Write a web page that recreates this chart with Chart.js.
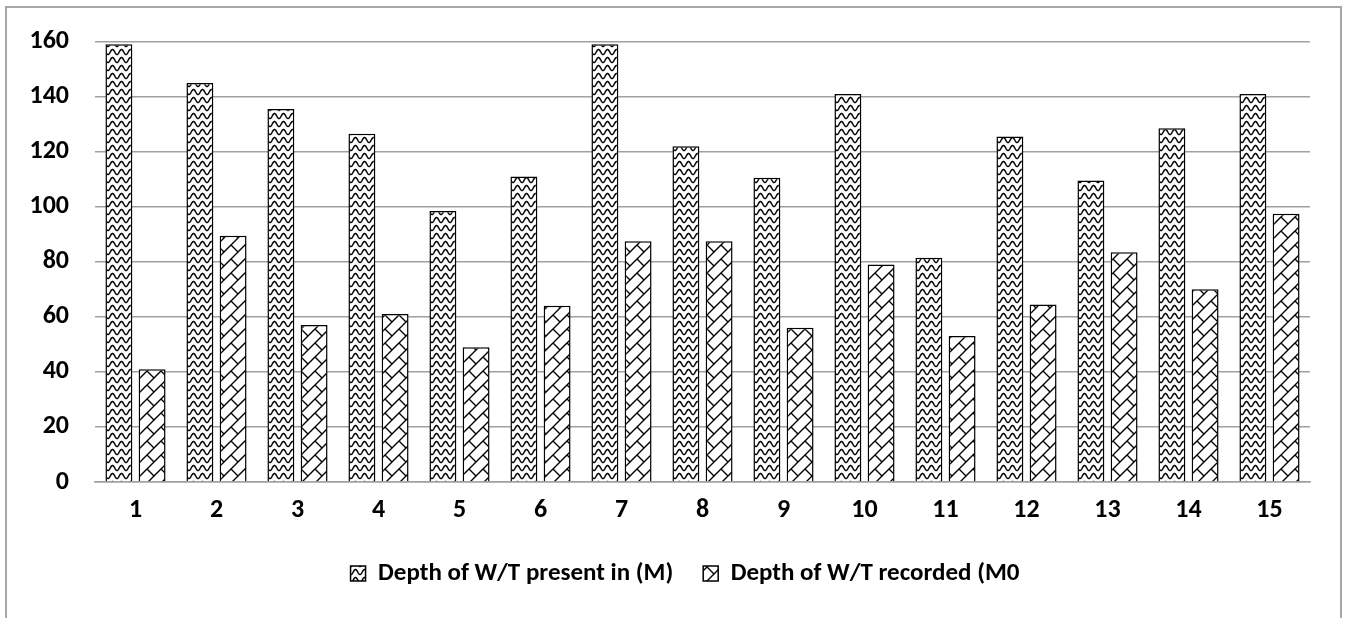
<!DOCTYPE html>
<html>
<head>
<meta charset="utf-8">
<script src="https://cdn.jsdelivr.net/npm/chart.js@4"></script>
<style>
html,body{margin:0;padding:0;background:#fff;}
#wrap{position:absolute;left:0;top:0;width:1346px;height:618px;}
</style>
</head>
<body>
<div id="wrap"><canvas id="c" width="1346" height="618"></canvas></div>
<script>
const categories = ['1','2','3','4','5','6','7','8','9','10','11','12','13','14','15'];
const presentDepth = [159, 145, 135.5, 126.5, 98.5, 111, 159, 122, 110.5, 141, 81.5, 125.5, 109.5, 128.5, 141];
const recordedDepth = [41, 89.5, 57, 61, 49, 64, 87.5, 87.5, 56, 79, 53, 64.5, 83.5, 70, 97.5];
const seriesNames = ['Depth of W/T present in (M)', 'Depth of W/T recorded (M0'];
const yTicks = [0, 20, 40, 60, 80, 100, 120, 140, 160];

const FONT = "Carlito, Lato, 'Liberation Sans', sans-serif";

function wavePattern(){
  const w = 9, h = 8;
  const c = document.createElement('canvas');
  c.width = w; c.height = h;
  const g = c.getContext('2d');
  g.fillStyle = '#fff'; g.fillRect(0,0,w,h);
  g.strokeStyle = '#000'; g.lineWidth = 1.5;
  g.beginPath();
  let first = true;
  for (let x = -1; x <= w + 1; x += 0.25) {
    const y = 4 + 2.5 * Math.cos(x / w * Math.PI * 2);
    if (first) { g.moveTo(x, y); first = false; } else g.lineTo(x, y);
  }
  g.stroke();
  return g.createPattern(c, 'repeat');
}
function brickPattern(){
  const s = 14;
  const c = document.createElement('canvas');
  c.width = s; c.height = s;
  const g = c.getContext('2d');
  g.fillStyle = '#fff'; g.fillRect(0,0,s,s);
  g.strokeStyle = '#000'; g.lineWidth = 1.4;
  g.beginPath();
  g.moveTo(-2, s+2); g.lineTo(s+2, -2);
  g.moveTo(-2, 2); g.lineTo(2, -2);
  g.moveTo(s-2, s+2); g.lineTo(s+2, s-2);
  g.moveTo(s/2, s/2); g.lineTo(s+1, s+1);
  g.moveTo(-1, -1); g.lineTo(0.5, 0.5);
  g.stroke();
  return g.createPattern(c, 'repeat');
}

const framePlugin = {
  id: 'frame',
  beforeDraw(chart){
    const ctx = chart.ctx;
    ctx.save();
    ctx.fillStyle = '#fff';
    ctx.fillRect(0,0,chart.width,chart.height);
    ctx.strokeStyle = '#a6a6a6';
    ctx.lineWidth = 2;
    ctx.strokeRect(6, 7, 1335, 700);
    ctx.restore();
  },
  afterLayout(chart){
    const lg = chart.legend;
    if (lg) { lg.left += 30; lg.right += 30; }
  }
};

new Chart(document.getElementById('c'), {
  type: 'bar',
  data: {
    labels: categories,
    datasets: [
      { label: seriesNames[0], data: presentDepth, backgroundColor: wavePattern(), borderColor: '#000', borderWidth: 1.5,
        categoryPercentage: 0.82, barPercentage: 0.81 },
      { label: seriesNames[1], data: recordedDepth, backgroundColor: brickPattern(), borderColor: '#000', borderWidth: 1.5,
        categoryPercentage: 0.82, barPercentage: 0.81 }
    ]
  },
  options: {
    responsive: false,
    animation: false,
    layout: { padding: { left: 0, right: 36, top: 38, bottom: 22 } },
    plugins: {
      tooltip: { enabled: false },
      legend: {
        position: 'bottom',
        labels: {
          color: '#000',
          font: { family: FONT, size: 25, weight: 'bold' },
          boxWidth: 15, boxHeight: 15,
          padding: 30
        }
      }
    },
    scales: {
      x: {
        afterFit(scale){ scale.height = 49; },
        grid: { display: false, drawTicks: false },
        border: { display: true, color: '#a0a0a0', width: 1.5 },
        ticks: { color: '#000', font: { family: FONT, size: 26, weight: 'bold' }, padding: 13, maxRotation: 0 }
      },
      y: {
        min: 0, max: 160,
        afterFit(scale){ scale.width = 95; },
        afterBuildTicks(scale){ scale.ticks = yTicks.map(v => ({ value: v })); },
        grid: { color: '#a0a0a0', lineWidth: 1.5, drawTicks: false },
        border: { display: false },
        ticks: { color: '#000', font: { family: FONT, size: 26, weight: 'bold' }, padding: 26 }
      }
    }
  },
  plugins: [framePlugin]
});
</script>
</body>
</html>
